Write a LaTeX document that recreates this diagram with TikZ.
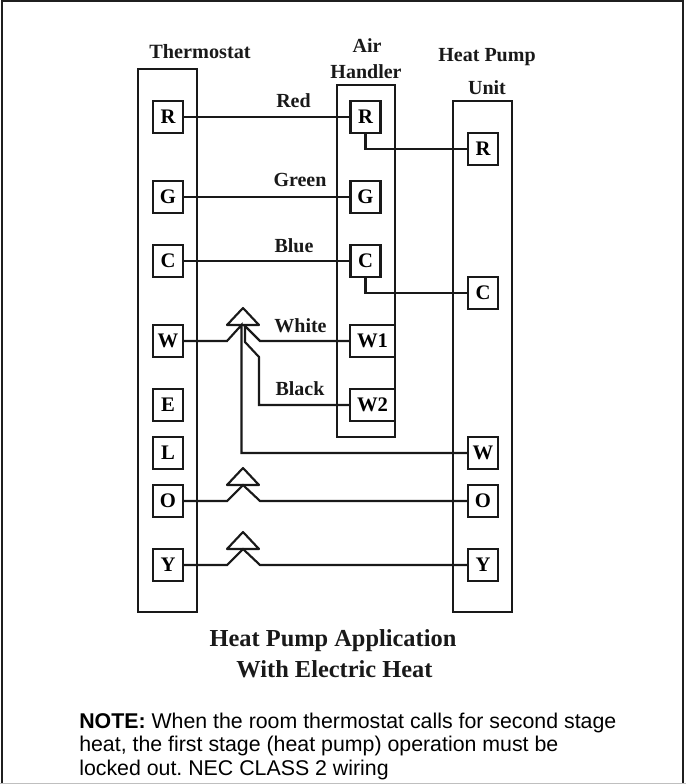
\documentclass[tikz,border=0pt]{standalone}
\usepackage{fontspec}
\setmainfont{Liberation Serif}
\newfontfamily\notefont{Liberation Sans}
\usetikzlibrary{calc}
\frenchspacing
\tikzset{
  x=0.75pt,y=-0.75pt,
  wire/.style={line width=1.6pt,line join=miter,black!90},
  panel/.style={draw=black!90,line width=1.6pt,fill=none,inner sep=0pt,outer sep=0pt},
  term/.style={panel,fill=white,minimum width=22.5pt,minimum height=24pt,font=\fontsize{15.5}{15.5}\selectfont\bfseries},
  wideterm/.style={term,minimum width=33.75pt},
  lab/.style={inner sep=0pt,font=\fontsize{15}{15}\selectfont\bfseries,black!90,anchor=base},
  captext/.style={lab,font=\fontsize{18.3}{18.3}\selectfont\bfseries},
  note/.style={inner sep=0pt,anchor=base west,font=\fontsize{16}{16}\notefont\frenchspacing,black},
}
\begin{document}
\begin{tikzpicture}
\useasboundingbox (0,0) rectangle (686,784);
\draw[black!88,line width=1.5pt] (2,784) -- (2,1) -- (683,1) -- (683,784);
\draw[black!25,line width=0.75pt] (0,783.5) -- (686,783.5);
% panels
\draw[panel] (138,69) rectangle (197,612);
\draw[panel] (337,85) rectangle (395,437);
\draw[panel] (453,101) rectangle (512,612);
\coordinate (jW) at (243,325);
\coordinate (jO) at (243,485);
\coordinate (jY) at (243,549);
% thermostat terminals
\foreach \n/\t/\yy in {tR/R/117,tG/G/197,tC/C/261,tW/W/341,tE/E/405,tL/L/453,tO/O/501,tY/Y/565}
  \node[term] (\n) at (168,\yy) {\t};
% air handler terminals
\foreach \n/\t/\yy in {aR/R/117,aG/G/197,aC/C/261}
  \node[term] (\n) at (365.5,\yy) {\t};
\node[wideterm] (aW) at (372.5,341) {W1};
\node[wideterm] (aX) at (372.5,405) {W2};
% heat pump terminals
\foreach \n/\t/\yy in {hR/R/149,hC/C/293,hW/W/453,hO/O/501,hY/Y/565}
  \node[term] (\n) at (483,\yy) {\t};
% wires
\draw[wire] (tR) -- (aR);
\draw[wire] (tG) -- (aG);
\draw[wire] (tC) -- (aC);
\draw[wire] (aR.south) |- (hR.west);
\draw[wire] (aC.south) |- (hC.west);
\draw[wire] (tW.east) -- (227,341) -- (241.5,325) |- (hW.west);
\draw[wire] (aW.west) -- (260,341) -- (244,325);
\draw[wire] (aX.west) -- (259,405) -- (259,357) -- (245,342) -- (245,325);
\draw[wire] (tO.east) -- (227,501) -- (jO) -- (260,501) -- (hO.west);
\draw[wire] (tY.east) -- (227,565) -- (jY) -- (260,565) -- (hY.west);
% jump-overs
\foreach \c in {jW,jO,jY}
  \draw[wire,line join=round] ($(\c)+(-16,0)$) -- ($(\c)+(0,-17)$) -- ($(\c)+(16,0)$) -- cycle;
% labels
\node[lab,font=\fontsize{15.2}{15.2}\selectfont\bfseries] (lT) at (200,59) {Thermostat};
\node[lab] (lA) at (367,53) {Air};
\node[lab] (lH) at (366,79) {Handler};
\node[lab] (lP) at (487,62) {Heat Pump};
\node[lab] (lU) at (487,95) {Unit};
\node[lab] (lRed) at (293.5,108) {Red};
\node[lab] (lGreen) at (300,187) {Green};
\node[lab] (lBlue) at (294,252) {Blue};
\node[lab] (lWhite) at (300.5,332) {White};
\node[lab] (lBlack) at (300,395) {Black};
\node[captext] (c1) at (333,646) {Heat Pump Application};
\node[captext] (c2) at (334.5,677) {With Electric Heat};
\node[note] (n1) at (79,728) {\textbf{NOTE:} When the room thermostat calls for second stage};
\node[note] (n2) at (79,751) {heat, the first stage (heat pump) operation must be};
\node[note] (n3) at (79,775) {locked out. NEC CLASS 2 wiring};
\end{tikzpicture}
\end{document}
